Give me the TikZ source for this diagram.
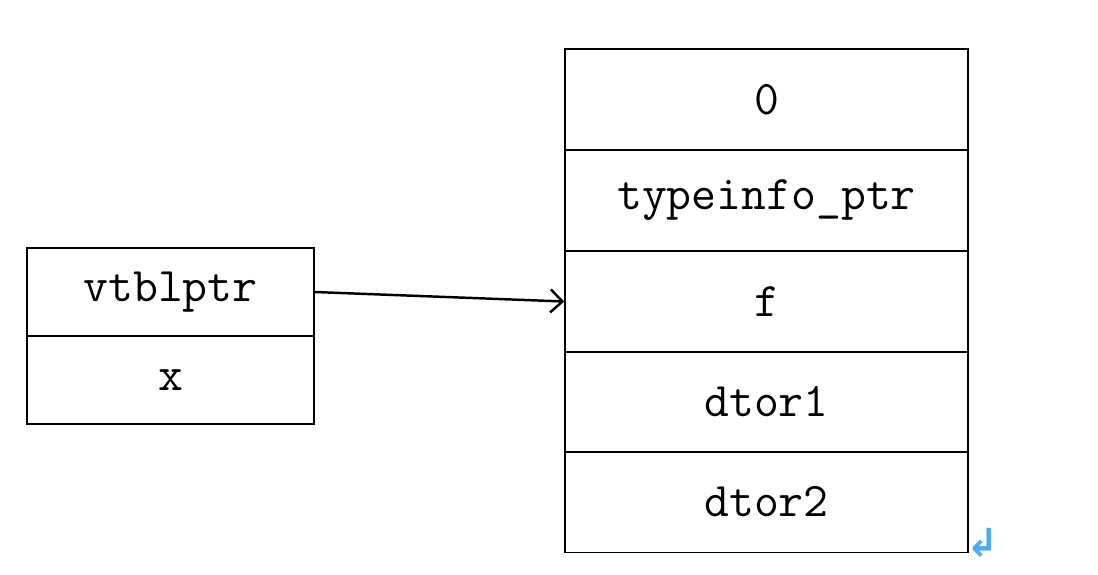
\documentclass[tikz,border=0pt]{standalone}
\usepackage{fontspec}
\newfontfamily\markfont{DejaVu Sans}
\usetikzlibrary{positioning,arrows.meta}
\definecolor{markblue}{RGB}{80,170,240}

\begin{document}
\begin{tikzpicture}[every node/.style={rectangle,draw,line width=0.85pt,inner sep=0pt,font=\ttfamily\fontsize{27.5}{30}\selectfont},
  vcell/.style={minimum width=8.06cm,minimum height=2.014cm},
  ocell/.style={minimum width=5.74cm,minimum height=1.76cm}]
\useasboundingbox (0,0) rectangle (21.96,-11.48);
\node[ocell] (vptr) at (3.41,-5.84) {vtblptr};
\node[ocell] (x) at (3.41,-7.60) {x};
\node[vcell] (zero) at (15.33,-1.99) {0};
\node[vcell] (tinfo) at (15.33,-4.01) {typeinfo\_ptr};
\node[vcell] (f) at (15.33,-6.03) {f};
\node[vcell] (dtor1) at (15.33,-8.04) {dtor1};
\node[vcell] (dtor2) at (15.33,-10.04) {dtor2};
\node[draw=none,text=markblue,font=\markfont\bfseries\fontsize{22}{24}\selectfont] (pmark) at (19.66,-10.86) {↲};
\draw[line width=1.4pt,-{Straight Barb[length=2.4mm,width=4.6mm]}] (vptr.east)--(f.west);
\end{tikzpicture}
\end{document}
